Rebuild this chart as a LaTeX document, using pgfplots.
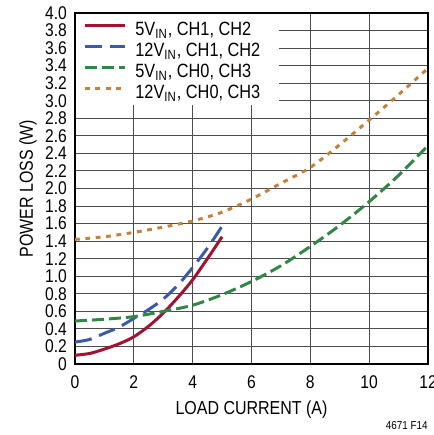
\documentclass[border=0pt]{standalone}
\usepackage{fontspec}
\setmainfont{Liberation Sans}[FakeStretch=0.85]
\usepackage{pgfplots}
\pgfplotsset{compat=1.18}
\definecolor{cred}{RGB}{160,20,50}
\definecolor{cblue}{RGB}{60,90,170}
\definecolor{cgreen}{RGB}{50,135,70}
\definecolor{corange}{RGB}{195,130,60}
\begin{document}
\begin{tikzpicture}
\begin{axis}[
  scale only axis, width=176.5pt, height=175.5pt,
  xmin=0, xmax=12, ymin=0, ymax=4,
  xtick={0,2,4,6,8,10,12},
  xticklabels={0,2,4,6,8,10,12},
  ytick={0,0.2,0.4,0.6,0.8,1.0,1.2,1.4,1.6,1.8,2.0,2.2,2.4,2.6,2.8,3.0,3.2,3.4,3.6,3.8,4.0},
  yticklabels={0,0.2,0.4,0.6,0.8,1.0,1.2,1.4,1.6,1.8,2.0,2.2,2.4,2.6,2.8,3.0,3.2,3.4,3.6,3.8,4.0},
  grid=major, major grid style={black!70, line width=0.5pt},
  major tick length=0pt,
  axis line style={line width=0.9pt},
  tick label style={font=\fontsize{9.2}{10}\selectfont},
  xticklabel style={yshift=-2.5pt},
  yticklabel style={xshift=-0.5pt},
  every axis x label/.style={at={(axis description cs:0.5,-0.1439)}, anchor=base, font=\fontsize{9.4}{10}\selectfont},
  every axis y label/.style={at={(axis description cs:-0.119,0.5)}, rotate=90, anchor=base, font=\fontsize{9.4}{10}\selectfont},
  xlabel={LOAD CURRENT (A)},
  ylabel={POWER LOSS (W)},
  legend cell align=left,
  legend image code/.code={\draw[#1] (0pt,3.3pt) -- (20pt,3.3pt);},
  legend style={at={(rel axis cs:0.0227,0.977)}, anchor=north west, draw=none, fill=none,
    font=\fontsize{9.6}{10}\selectfont, row sep=0pt, column sep=4.5pt, inner sep=0pt,
    nodes={inner xsep=0pt, inner ysep=0pt, text height=7pt, text depth=3.5pt}},
]
\fill[white] ([xshift=0.6pt]axis cs:0,2.955) rectangle ([yshift=-0.6pt]axis cs:6.93,4);
\addplot[cred, line width=1.5pt, smooth] coordinates {
  (0,0.10) (0.5,0.12) (1,0.17) (1.5,0.23) (2,0.31) (2.5,0.43) (3,0.58) (3.5,0.76) (4,0.96) (4.5,1.20) (5,1.45)};
\addlegendentry{5V\textsubscript{IN}, CH1, CH2}
\addplot[cblue, line width=1.5pt, dash pattern=on 8.5pt off 4pt, smooth] coordinates {
  (0,0.25) (0.5,0.28) (1,0.35) (1.5,0.42) (2,0.52) (2.5,0.62) (3,0.74) (3.5,0.90) (4,1.10) (4.5,1.32) (5,1.57)};
\addlegendentry{12V\textsubscript{IN}, CH1, CH2}
\addplot[cgreen, line width=1.5pt, dash pattern=on 6pt off 2.5pt, smooth] coordinates {
  (0,0.49) (1,0.51) (2,0.54) (3,0.60) (4,0.67) (5,0.79) (6,0.94) (7,1.12) (8,1.34) (9,1.58) (10,1.85) (11,2.15) (12,2.49)};
\addlegendentry{5V\textsubscript{IN}, CH0, CH3}
\addplot[corange, line width=1.5pt, dash pattern=on 2.4pt off 2.8pt, smooth] coordinates {
  (0,1.42) (1,1.45) (2,1.50) (3,1.56) (4,1.63) (5,1.73) (6,1.88) (7,2.06) (8,2.24) (9,2.50) (10,2.78) (11,3.07) (12,3.37)};
\addlegendentry{12V\textsubscript{IN}, CH0, CH3}
\end{axis}
\node[anchor=base east, font=\fontsize{5.8}{6}\selectfont, inner sep=0pt] at ([yshift=-33pt]current axis.south east) {4671 F14};
\pgfresetboundingbox
\path ([xshift=-37.5pt,yshift=-35.5pt]current axis.south west) rectangle ([xshift=2.5pt,yshift=6.5pt]current axis.north east);
\end{tikzpicture}
\end{document}
